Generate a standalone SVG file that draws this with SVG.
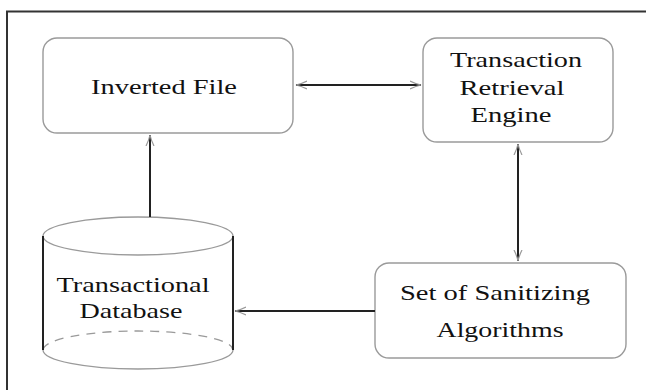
<svg xmlns="http://www.w3.org/2000/svg" width="646" height="390" viewBox="0 0 646 390">
<style>
.box{fill:#fff;stroke:#9a9a9a;stroke-width:1.4}
.cyl{fill:none;stroke:#9a9a9a;stroke-width:1.3}
.side{stroke:#222;stroke-width:2;fill:none}
.lbl{font-family:"Liberation Serif","Times New Roman",serif;font-size:22px;fill:#111;text-anchor:middle}
.con{stroke:#222;stroke-width:2;fill:none}
</style>
<defs>
<marker id="ah" viewBox="0 0 12 10" refX="11" refY="5" markerWidth="12" markerHeight="10" markerUnits="userSpaceOnUse" orient="auto-start-reverse">
<path d="M0,1 Q6,4 11,5 Q6,6 0,9" fill="none" stroke="#999" stroke-width="1.2"/>
</marker>
</defs>
<rect width="646" height="390" fill="#fff"/>
<path d="M7,390 V11.5 H646" fill="none" stroke="#333" stroke-width="2"/>
<g id="inverted-file">
<rect class="box" x="43" y="38" width="250" height="95" rx="14"/>
<text class="lbl" x="164" y="94" textLength="146" lengthAdjust="spacingAndGlyphs">Inverted File</text>
</g>
<g id="retrieval-engine">
<rect class="box" x="423" y="38" width="190" height="104" rx="14"/>
<text class="lbl" x="516" y="67" textLength="132" lengthAdjust="spacingAndGlyphs">Transaction</text>
<text class="lbl" x="512" y="95" textLength="105" lengthAdjust="spacingAndGlyphs">Retrieval</text>
<text class="lbl" x="511" y="122" textLength="81" lengthAdjust="spacingAndGlyphs">Engine</text>
</g>
<g id="sanitizing">
<rect class="box" x="375" y="263" width="251" height="95" rx="14"/>
<text class="lbl" x="495" y="300" textLength="190" lengthAdjust="spacingAndGlyphs">Set of Sanitizing</text>
<text class="lbl" x="500" y="337" textLength="127" lengthAdjust="spacingAndGlyphs">Algorithms</text>
</g>
<g id="database">
<ellipse class="cyl" cx="138" cy="236" rx="95" ry="19"/>
<path class="cyl" d="M43,350 A95,19 0 0 0 233,350"/>
<path class="cyl" d="M43,350 A95,19 0 0 1 233,350" stroke-dasharray="9,7"/>
<path class="side" d="M43,236 V350 M233,236 V350"/>
<text class="lbl" x="133" y="292" textLength="153" lengthAdjust="spacingAndGlyphs">Transactional</text>
<text class="lbl" x="131" y="318" textLength="103" lengthAdjust="spacingAndGlyphs">Database</text>
</g>
<g id="connectors">
<line class="con" x1="296" y1="85" x2="421" y2="85" marker-start="url(#ah)" marker-end="url(#ah)"/>
<line class="con" x1="518" y1="144" x2="518" y2="261" marker-start="url(#ah)" marker-end="url(#ah)"/>
<line class="con" x1="375" y1="311" x2="235" y2="311" marker-end="url(#ah)"/>
<line class="con" x1="150" y1="217" x2="150" y2="135" marker-end="url(#ah)"/>
</g>
</svg>
